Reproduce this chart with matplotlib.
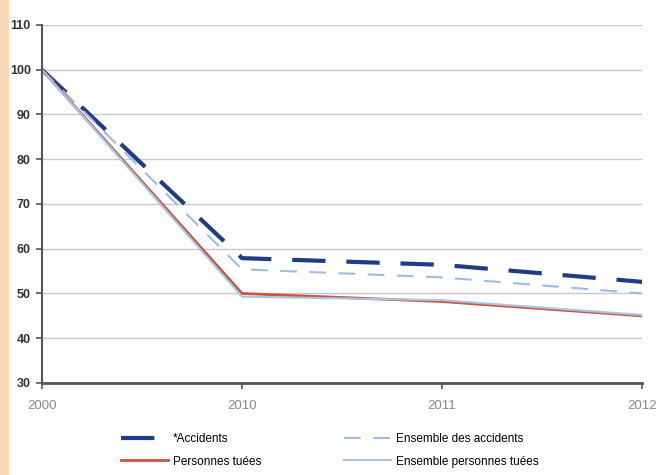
import matplotlib.pyplot as plt
from matplotlib.patches import Rectangle

plt.rcParams['font.family'] = ['Liberation Sans', 'DejaVu Sans']

years = ["2000", "2010", "2011", "2012"]
accidents = [100, 57.9, 56.4, 52.6]
ensemble_accidents = [100, 55.4, 53.6, 50.0]
tues = [100, 50.0, 48.2, 45.0]
ensemble_tues = [100, 49.3, 48.5, 45.2]

fig = plt.figure(figsize=(6.6, 4.75), dpi=100)
# peach stripe on the left
fig.patches.append(Rectangle((0, 0), 0.012, 1, transform=fig.transFigure,
                             color="#F9D9B8", zorder=0))
ax = fig.add_axes([0.0636, 0.1937, 0.9094, 0.7537])

x = range(len(years))
l1, = ax.plot(x, accidents, color="#1F3C88", lw=3, dashes=(8, 5), label="*Accidents")
l3, = ax.plot(x, ensemble_accidents, color="#9DBCE4", lw=1.5, dashes=(8, 6),
              label="Ensemble des accidents")
l2, = ax.plot(x, tues, color="#C9553E", lw=2, label="Personnes tuées")
l4, = ax.plot(x, ensemble_tues, color="#A9C4E4", lw=1.5, label="Ensemble personnes tuées")

ax.set_xlim(0, 3)
ax.set_ylim(30, 110)
ax.set_yticks(range(30, 111, 10))
ax.set_xticks(list(x))
ax.set_xticklabels(years, color="#8A8A8A", fontsize=9.5)
for lab in ax.get_yticklabels():
    lab.set_fontweight("bold")
    lab.set_fontsize(9)
    lab.set_color("#333333")
ax.yaxis.grid(True, color="#C8C8C8", lw=1)
ax.set_axisbelow(True)
for s in ["top", "right"]:
    ax.spines[s].set_visible(False)
ax.spines["left"].set_color("#555555")
ax.spines["bottom"].set_color("#555555")
ax.spines["left"].set_linewidth(1.5)
ax.spines["bottom"].set_linewidth(2)
ax.tick_params(axis="y", length=4, width=1.2, color="#555555", pad=4)
ax.tick_params(axis="x", length=4, width=1.2, color="#555555", pad=8)

fig.legend([l1, l2, l3, l4], [l.get_label() for l in [l1, l2, l3, l4]],
           ncol=2, loc="center", bbox_to_anchor=(0.5, 0.052), frameon=False,
           fontsize=8.5, columnspacing=7, handlelength=4, handletextpad=0.4,
           labelspacing=0.9)

fig.savefig("out.png", dpi=100)
